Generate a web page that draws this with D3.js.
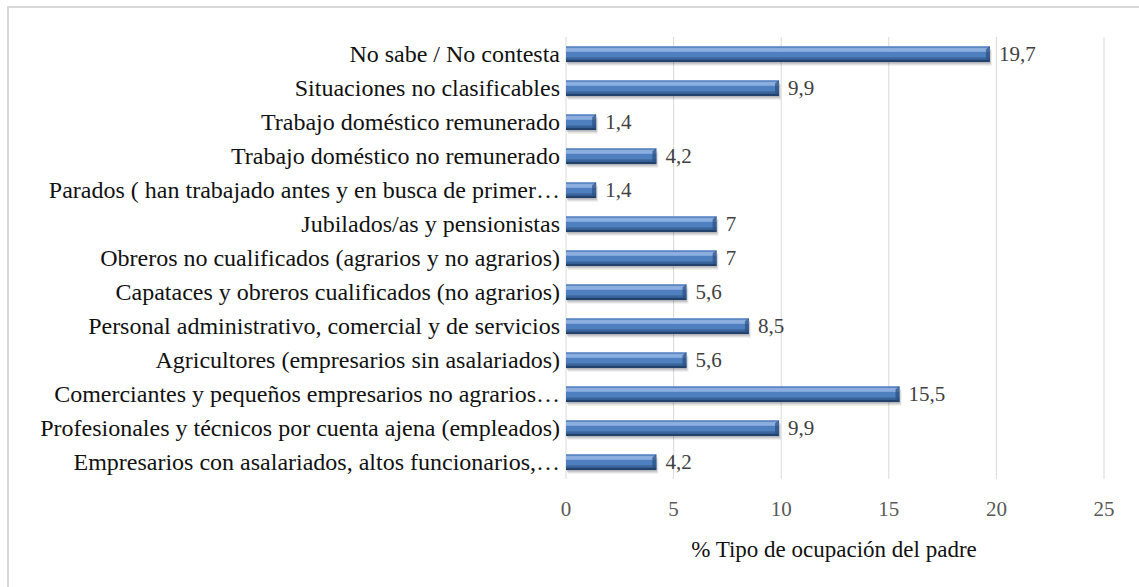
<!DOCTYPE html>
<html>
<head>
<meta charset="utf-8">
<script src="https://cdn.jsdelivr.net/npm/d3@7/dist/d3.min.js"></script>
</head>
<body style="margin:0">
<svg id="chart" width="1139" height="587"></svg>
<script>
// Occupation categories, top to bottom
const categories = [
  "No sabe / No contesta",
  "Situaciones no clasificables",
  "Trabajo doméstico remunerado",
  "Trabajo doméstico no remunerado",
  "Parados ( han trabajado antes y en busca de primer…",
  "Jubilados/as y pensionistas",
  "Obreros no cualificados (agrarios y no agrarios)",
  "Capataces y obreros cualificados (no agrarios)",
  "Personal administrativo, comercial y de servicios",
  "Agricultores (empresarios sin asalariados)",
  "Comerciantes y pequeños empresarios no agrarios…",
  "Profesionales y técnicos por cuenta ajena (empleados)",
  "Empresarios con asalariados, altos funcionarios,…"
];
const values = [19.7, 9.9, 1.4, 4.2, 1.4, 7, 7, 5.6, 8.5, 5.6, 15.5, 9.9, 4.2];
const xTicks = [0, 5, 10, 15, 20, 25];
const xTitle = "% Tipo de ocupación del padre";

const s = d3.select("#chart");
const face = '"Liberation Serif"';

// outer frame (left and top edges visible)
s.append("rect")
  .attr("x", 8).attr("y", 7)
  .attr("width", 1160).attr("height", 620)
  .attr("fill", "none").attr("stroke", "#d9d9d9").attr("stroke-width", 2);

const plot = { left: 566, right: 1104, top: 37, bottom: 479 };

const x = d3.scaleLinear().domain([0, 25]).range([plot.left, plot.right]);
const y = d3.scaleBand().domain(categories).range([plot.top, plot.bottom]).paddingInner(0.54).paddingOuter(0.27);

// vertical gridlines
xTicks.forEach(t => {
  s.append("line")
    .attr("x1", x(t)).attr("x2", x(t))
    .attr("y1", plot.top).attr("y2", plot.bottom)
    .attr("stroke", "#d9d9d9").attr("stroke-width", 1);
});

// horizontal bands that give each bar its bevelled, rounded look
const stripes = [
  [0.00, 0.14, "#5b87c5"],
  [0.14, 0.36, "#8cafe1"],
  [0.36, 0.70, "#4e7fbf"],
  [0.70, 0.87, "#3a669e"],
  [0.87, 1.00, "#22426c"]
];

categories.forEach((c, i) => {
  const v = values[i];
  const by = y(c), bh = y.bandwidth(), bx = x(0), bw = x(v) - x(0);
  // soft drop shadow
  s.append("rect").attr("x", bx + 2).attr("y", by + 4).attr("width", bw).attr("height", bh)
    .attr("fill", "#000").attr("opacity", 0.07);
  s.append("rect").attr("x", bx + 1).attr("y", by + 2.5).attr("width", bw).attr("height", bh)
    .attr("fill", "#000").attr("opacity", 0.15);
  stripes.forEach(([a, b, col]) => {
    s.append("rect").attr("x", bx).attr("y", by + a * bh).attr("width", bw).attr("height", (b - a) * bh + 0.3)
      .attr("fill", col);
  });
  // bevel on the right end
  s.append("path")
    .attr("d", `M${bx + bw - 4},${by + 3} L${bx + bw},${by} L${bx + bw},${by + bh} L${bx + bw - 4},${by + bh - 3} Z`)
    .attr("fill", "#2a4f80").attr("opacity", 0.7);
});

// value labels
values.forEach((v, i) => {
  s.append("text")
    .attr("x", x(v) + 9)
    .attr("y", y(categories[i]) + y.bandwidth() / 2 + 7)
    .style("font-family", face).style("font-size", "21px")
    .attr("fill", "#404040")
    .text(String(v).replace(".", ","));
});

// category labels
categories.forEach(c => {
  s.append("text")
    .attr("x", plot.left - 6)
    .attr("y", y(c) + y.bandwidth() / 2 + 8)
    .attr("text-anchor", "end")
    .style("font-family", face).style("font-size", "24px")
    .attr("fill", "#111")
    .text(c);
});

// x axis tick labels
xTicks.forEach(t => {
  s.append("text")
    .attr("x", x(t)).attr("y", 516)
    .attr("text-anchor", "middle")
    .style("font-family", face).style("font-size", "21px")
    .attr("fill", "#595959")
    .text(t);
});

// axis title
s.append("text")
  .attr("x", x(12.5) - 1).attr("y", 557)
  .attr("text-anchor", "middle")
  .style("font-family", face).style("font-size", "23px")
  .attr("fill", "#111")
  .text(xTitle);
</script>
</body>
</html>
